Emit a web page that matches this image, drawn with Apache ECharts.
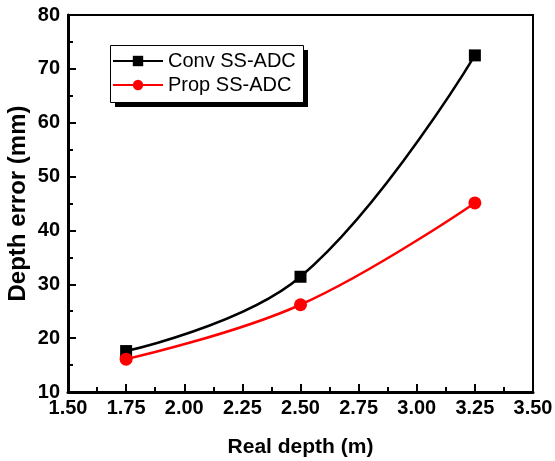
<!DOCTYPE html>
<html>
<head>
<meta charset="utf-8">
<script src="https://cdn.jsdelivr.net/npm/echarts@6/dist/echarts.min.js"></script>
<style>
  html, body { margin: 0; padding: 0; background: #fff; }
  #chart { width: 555px; height: 461px; }
</style>
</head>
<body>
<div id="chart"></div>
<script>
var depths = [1.75, 2.5, 3.25];
var convErr = [17.6, 31.4, 72.5];
var propErr = [16.1, 26.2, 45.1];
var seriesNames = ["Conv SS-ADC", "Prop SS-ADC"];

var myChart = echarts.init(document.getElementById("chart"));

function pairs(xs, ys) {
  var out = [];
  for (var i = 0; i < xs.length; i++) out.push([xs[i], ys[i]]);
  return out;
}

var boldLabel = { color: "#000", fontFamily: "Arial", fontWeight: "bold", fontSize: 20 };

var option = {
  animation: false,
  grid: {
    left: 68, right: 22, top: 15, bottom: 69,
    outerBoundsMode: "none",
    containLabel: false,
    show: true, borderColor: "#000", borderWidth: 2, backgroundColor: "#fff"
  },
  // legend frame with a hard drop shadow
  graphic: [
    { type: "rect", left: 115, top: 50, z: 10, shape: { width: 193, height: 57 }, style: { fill: "#000" } },
    { type: "rect", left: 110, top: 45, z: 11, shape: { width: 193, height: 57 }, style: { fill: "#fff", stroke: "#000", lineWidth: 1 } }
  ],
  legend: {
    orient: "vertical",
    left: 112, top: 51,
    padding: 0,
    itemGap: 4,
    itemWidth: 50, itemHeight: 13,
    z: 20,
    textStyle: { color: "#000", fontFamily: "Arial", fontSize: 20 },
    data: seriesNames
  },
  xAxis: {
    type: "value",
    min: 1.5, max: 3.5, interval: 0.25,
    name: "Real depth (m)",
    nameLocation: "middle", nameGap: 45,
    nameTextStyle: { color: "#000", fontFamily: "Arial", fontWeight: "bold", fontSize: 21 },
    axisLine: { lineStyle: { color: "#000", width: 3 } },
    axisTick: { inside: true, length: 8, lineStyle: { color: "#000", width: 2 } },
    minorTick: { show: true, splitNumber: 2, length: 5, lineStyle: { color: "#000", width: 2 } },
    splitLine: { show: false },
    axisLabel: Object.assign({ margin: 6, formatter: function (v) { return v.toFixed(2); } }, boldLabel)
  },
  yAxis: {
    type: "value",
    min: 10, max: 80, interval: 10,
    name: "Depth error (mm)",
    nameLocation: "middle", nameGap: 38,
    nameMoveOverlap: false,
    nameTextStyle: { color: "#000", fontFamily: "Arial", fontWeight: "bold", fontSize: 24 },
    axisLine: { show: true, lineStyle: { color: "#000", width: 3 } },
    axisTick: { show: true, inside: true, length: 8, lineStyle: { color: "#000", width: 2 } },
    minorTick: { show: true, splitNumber: 2, length: 5, lineStyle: { color: "#000", width: 2 } },
    splitLine: { show: false },
    axisLabel: Object.assign({ margin: 8 }, boldLabel)
  },
  series: [
    {
      name: seriesNames[0],
      type: "line",
      smooth: 0.4,
      symbol: "rect",
      symbolSize: 12,
      itemStyle: { color: "#000" },
      lineStyle: { color: "#000", width: 2.5 },
      data: pairs(depths, convErr),
      z: 3
    },
    {
      name: seriesNames[1],
      type: "line",
      smooth: 0.4,
      symbol: "circle",
      symbolSize: 13,
      itemStyle: { color: "#ff0000" },
      lineStyle: { color: "#ff0000", width: 2.5 },
      data: pairs(depths, propErr),
      z: 4
    }
  ]
};

myChart.setOption(option);
</script>
</body>
</html>
